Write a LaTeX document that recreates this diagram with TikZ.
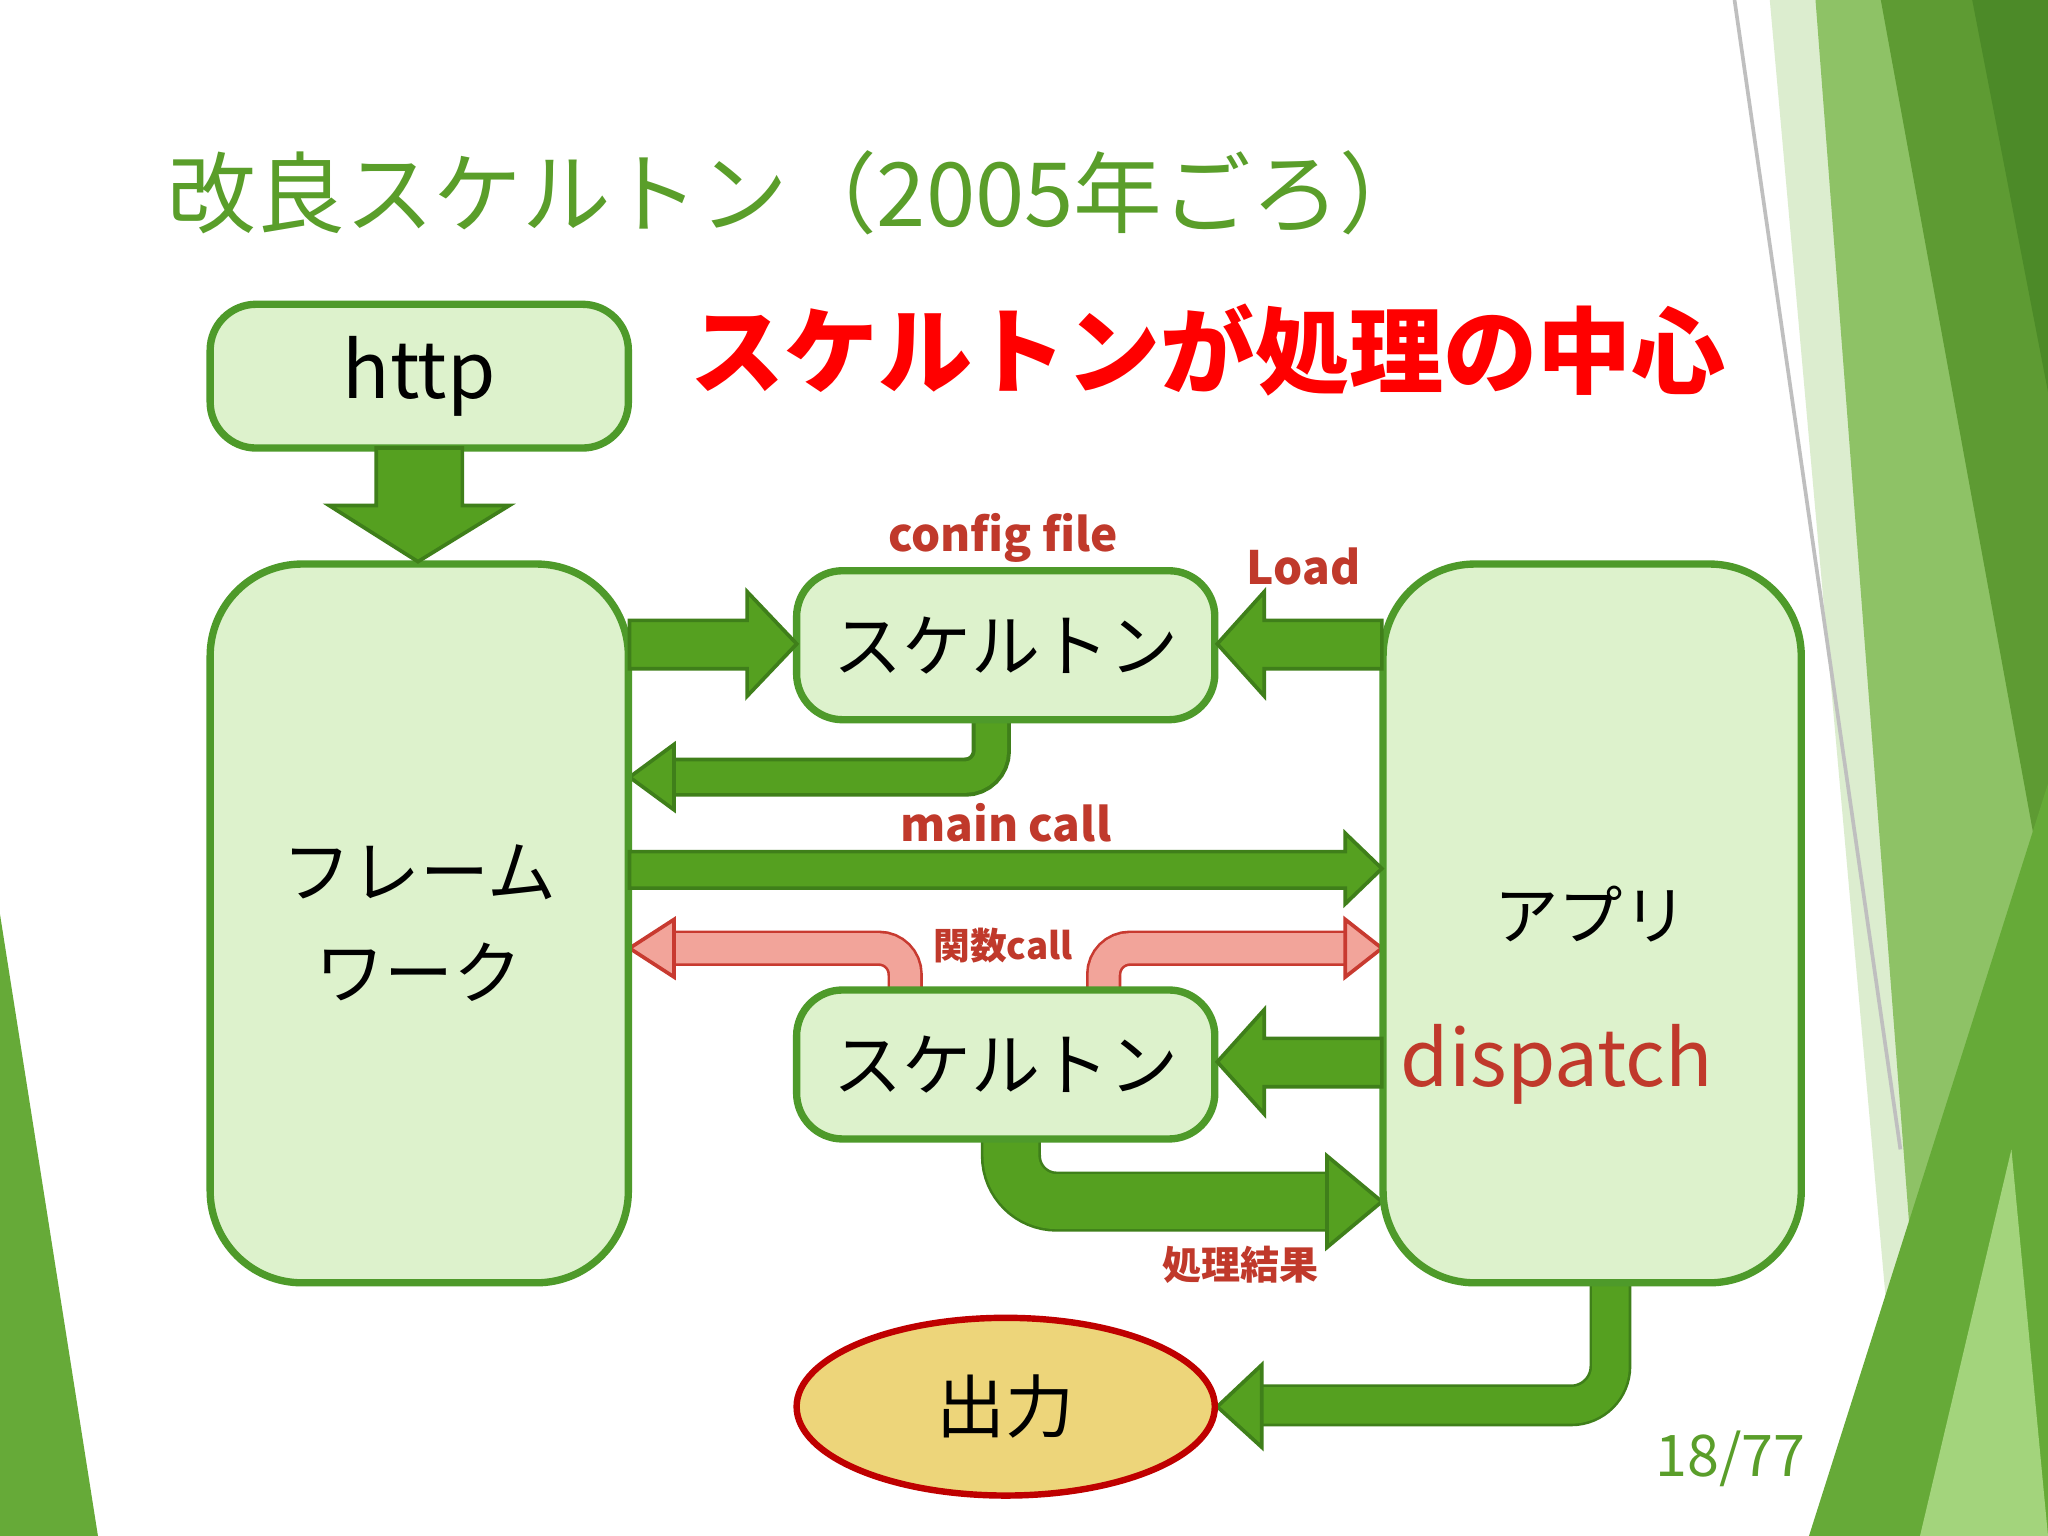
\documentclass[tikz,border=0pt]{standalone}
\usepackage{fontspec}
\setmainfont{Noto Sans CJK JP}
\usetikzlibrary{shapes.geometric}
\definecolor{tg}{HTML}{5A9E2A}
\definecolor{ga}{HTML}{55A020}
\definecolor{gb}{HTML}{3F7F1A}
\definecolor{bf}{HTML}{DDF2CC}
\definecolor{bd}{HTML}{4E9A2A}
\definecolor{pk}{HTML}{F2A49A}
\definecolor{pr}{HTML}{C83A30}
\definecolor{lb}{HTML}{C0392B}
\definecolor{of}{HTML}{EDD57A}
\definecolor{d1}{HTML}{DCEDCF}
\definecolor{d2}{HTML}{8EC266}
\definecolor{d3}{HTML}{5E9B33}
\definecolor{d4}{HTML}{4C8A28}
\definecolor{d5}{HTML}{66AA38}
\definecolor{d6}{HTML}{A3D47C}
\begin{document}
\begin{tikzpicture}[x=0.01cm,y=-0.01cm,
  box/.style={draw=bd,line width=1.6pt,fill=bf,rounded corners=10pt,inner sep=0pt},
  big/.style={draw=bd,line width=1.6pt,fill=bf,rounded corners=20pt,inner sep=0pt},
  head/.style={fill=ga,draw=gb,line width=0.8pt},
  phead/.style={fill=pk,draw=pr,line width=0.8pt},
  lab/.style={text=lb,font=\bfseries\fontsize{10}{12}\selectfont}]
\useasboundingbox (0,0) rectangle (1568,1176);
% decoration
\fill[white] (0,0) rectangle (1568,1176);
\fill[d1] (1355,0)--(1568,0)--(1568,1176)--(1460,1176)--cycle;
\fill[d2] (1390,0)--(1568,0)--(1568,1176)--(1480,1176)--cycle;
\fill[d3] (1440,0)--(1568,0)--(1568,700)--cycle;
\fill[d4] (1510,0)--(1568,0)--(1568,300)--cycle;
\fill[d5] (1568,600)--(1568,1176)--(1385,1176)--cycle;
\fill[d6] (1540,880)--(1568,1176)--(1470,1176)--cycle;
\draw[gray!50,line width=0.8pt] (1328,0)--(1455,880);
\fill[d5] (0,700)--(75,1176)--(0,1176)--cycle;
% titles
\node[text=tg,font=\fontsize{19.3}{22}\selectfont,anchor=west] (title) at (116,148) {改良スケルトン（2005年ごろ）};
\node[text=red,font=\bfseries\fontsize{20.5}{26}\selectfont,anchor=west] (sub) at (516,268) {スケルトンが処理の中心};
% bent arrows (under boxes)
\draw[gb,line width=0.30cm,rounded corners=0.2cm] (759,540)--(759,595)--(516,595);
\draw[ga,line width=0.24cm,rounded corners=0.2cm] (759,540)--(759,595)--(517,595);
\draw[head] (516,570)--(516,620)--(482,595)--cycle;
\draw[gb,line width=0.46cm,rounded corners=0.35cm] (774,860)--(774,920)--(1016,920);
\draw[ga,line width=0.42cm,rounded corners=0.35cm] (774,860)--(774,920)--(1017,920);
\draw[head] (1016,885)--(1016,955)--(1058,920)--cycle;
\draw[gb,line width=0.32cm,rounded corners=0.3cm] (1233,970)--(1233,1076)--(966,1076);
\draw[ga,line width=0.28cm,rounded corners=0.3cm] (1233,970)--(1233,1076)--(967,1076);
\draw[head] (966,1045)--(966,1108)--(932,1077)--cycle;
\draw[pr,line width=0.27cm,rounded corners=0.2cm] (693,770)--(693,726)--(516,726);
\draw[pk,line width=0.23cm,rounded corners=0.2cm] (693,770)--(693,726)--(517,726);
\draw[phead] (516,704)--(516,748)--(482,726)--cycle;
\draw[pr,line width=0.27cm,rounded corners=0.2cm] (845,770)--(845,726)--(1030,726);
\draw[pk,line width=0.23cm,rounded corners=0.2cm] (845,770)--(845,726)--(1029,726);
\draw[phead] (1030,704)--(1030,748)--(1058,726)--cycle;
% boxes
\node[box,minimum width=3.2cm,minimum height=1.1cm,font=\fontsize{17}{20}\selectfont] (http) at (321,288) {http};
\node[big,minimum width=3.2cm,minimum height=5.5cm,font=\fontsize{15}{22}\selectfont,align=center] (fw) at (321,707) {フレーム\\ワーク};
\node[big,minimum width=3.2cm,minimum height=5.5cm] (app) at (1219,707) {};
\node[font=\fontsize{14}{16}\selectfont] (appt) at (1218,700) {アプリ};
\node[text=lb,font=\fontsize{17}{20}\selectfont] (disp) at (1192,815) {dispatch};
\node[box,minimum width=3.2cm,minimum height=1.14cm,font=\fontsize{15}{18}\selectfont] (sk1) at (770,494) {スケルトン};
\node[box,minimum width=3.2cm,minimum height=1.14cm,font=\fontsize{15}{18}\selectfont] (sk2) at (770,815) {スケルトン};
\node[ellipse,draw=red!75!black,line width=1.4pt,fill=of,inner sep=0pt,minimum width=3.2cm,minimum height=1.36cm,font=\fontsize{15}{18}\selectfont] (out) at (770,1077) {出力};
% http down arrow
\draw[head] (288,343)--(354,343)--(354,387)--(390,387)--(320,430)--(252,387)--(288,387)--cycle;
% straight arrows
\draw[head] (482,475)--(572,475)--(572,453)--(610,493)--(572,533)--(572,512)--(482,512)--cycle;
\draw[head] (1058,475)--(968,475)--(968,453)--(932,493)--(968,533)--(968,512)--(1058,512)--cycle;
\draw[head] (482,652)--(1030,652)--(1030,638)--(1058,665)--(1030,692)--(1030,680)--(482,680)--cycle;
\draw[head] (1058,795)--(968,795)--(968,773)--(932,813)--(968,853)--(968,832)--(1058,832)--cycle;
% labels
\node[lab] (l1) at (768,412) {config file};
\node[lab] (l2) at (998,434) {Load};
\node[lab] (l3) at (770,630) {main call};
\node[lab,font=\bfseries\fontsize{8}{10}\selectfont] (l4) at (768,724) {関数call};
\node[lab,font=\bfseries\fontsize{8.5}{10}\selectfont] (l5) at (950,968) {処理結果};
\node[text=tg,font=\fontsize{12.5}{14}\selectfont] (pg) at (1325,1117) {18/77};
\end{tikzpicture}
\end{document}
